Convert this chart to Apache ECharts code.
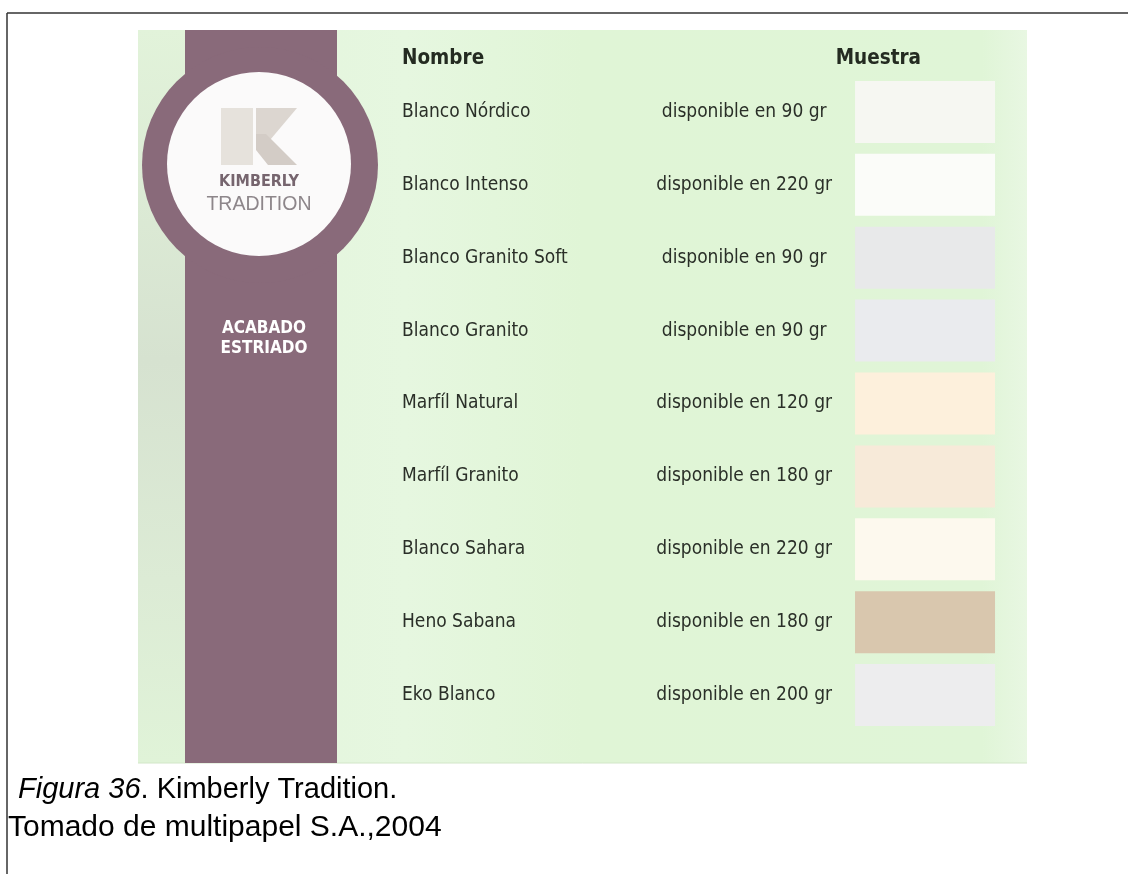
<!DOCTYPE html>
<html>
<head>
<meta charset="utf-8">
<script src="https://cdn.jsdelivr.net/npm/echarts@6/dist/echarts.min.js"></script>
<style>
  html, body { margin: 0; padding: 0; background: #fff; }
  #chart { width: 1128px; height: 874px; }
</style>
</head>
<body>
<div id="chart"></div>
<script>
// nombres de los papeles, gramaje disponible y color de la muestra
var productNames = ['Blanco Nórdico', 'Blanco Intenso', 'Blanco Granito Soft', 'Blanco Granito',
  'Marfíl Natural', 'Marfíl Granito', 'Blanco Sahara', 'Heno Sabana', 'Eko Blanco'];
var gramajes = [90, 220, 90, 90, 120, 180, 220, 180, 200];
var sampleColors = ['#f6f7f2', '#fbfcf9', '#e8e9ea', '#eaebee', '#fdf0dc',
  '#f7ead9', '#fdf9ee', '#d9c7ae', '#ededee'];

var textFont = "'DejaVu Sans Condensed', 'DejaVu Sans', sans-serif";
var captionFont = "'Liberation Sans', Arial, sans-serif";
var textColor = '#2a2f28';

var myChart = echarts.init(document.getElementById('chart'));

var option = {
  animation: false,
  backgroundColor: '#ffffff',
  grid: { left: 402, right: 135, top: 75.5, height: 656 },
  xAxis: { type: 'value', min: 0, max: 1, show: false },
  yAxis: {
    type: 'category',
    inverse: true,
    data: productNames,
    axisLine: { show: false },
    axisTick: { show: false },
    splitLine: { show: false },
    axisLabel: { align: 'left', margin: 0, fontSize: 19, color: textColor, fontFamily: textFont }
  },
  series: [
    {
      // muestras de papel
      type: 'scatter',
      symbol: 'rect',
      symbolSize: [140, 62],
      silent: true,
      itemStyle: { opacity: 1 },
      data: productNames.map(function (name, i) {
        return { value: [0.885, i], itemStyle: { color: sampleColors[i], opacity: 1 } };
      })
    },
    {
      // texto de gramaje
      type: 'scatter',
      symbolSize: 1,
      silent: true,
      itemStyle: { color: 'rgba(0,0,0,0)', opacity: 1 },
      label: {
        show: true,
        position: 'inside',
        fontSize: 19,
        color: textColor,
        fontFamily: textFont,
        formatter: function (p) { return 'disponible en ' + p.value[2] + ' gr'; }
      },
      data: gramajes.map(function (g, i) { return [0.579, i, g]; })
    }
  ],
  graphic: [
    // marco de la pagina
    { type: 'line', z: 0, shape: { x1: 7, y1: 13, x2: 1128, y2: 13 }, style: { stroke: '#333', lineWidth: 1.5 } },
    { type: 'line', z: 0, shape: { x1: 7, y1: 13, x2: 7, y2: 874 }, style: { stroke: '#333', lineWidth: 1.5 } },
    // fondo verde
    { type: 'rect', z: 0, shape: { x: 138, y: 30, width: 889, height: 733 },
      style: { fill: new echarts.graphic.LinearGradient(0, 0, 1, 0, [
        { offset: 0, color: '#e2f3da' }, { offset: 0.3, color: '#e6f7e0' },
        { offset: 0.5, color: '#e0f5d6' }, { offset: 0.95, color: '#e0f5d7' }, { offset: 1, color: '#e8f7e2' }]) } },
    { type: 'rect', z: 0, shape: { x: 138, y: 30, width: 47, height: 733 },
      style: { fill: new echarts.graphic.LinearGradient(0, 0, 0, 1, [
        { offset: 0, color: '#e2f3da' }, { offset: 0.45, color: '#d6e2d0' }, { offset: 0.75, color: '#dcebd5' }, { offset: 1, color: '#e0f3d8' }]) } },
    { type: 'line', z: 0, shape: { x1: 138, y1: 763, x2: 1027, y2: 763 }, style: { stroke: '#d2e6c8', lineWidth: 1 } },
    // banda morada y circulo
    { type: 'rect', z: 1, shape: { x: 185, y: 30, width: 152, height: 733 }, style: { fill: '#896a7a' } },
    { type: 'circle', z: 1, shape: { cx: 260, cy: 165, r: 118 }, style: { fill: '#896a7a' } },
    { type: 'circle', z: 1, shape: { cx: 259, cy: 164, r: 92 }, style: { fill: '#fbfafa' } },
    // logo K
    { type: 'rect', z: 1, shape: { x: 221, y: 108, width: 32, height: 57 }, style: { fill: '#e6e2dc' } },
    { type: 'polygon', z: 1, shape: { points: [[256, 108], [297, 108], [270, 140], [256, 140]] }, style: { fill: '#dcd6d0' } },
    { type: 'polygon', z: 1, shape: { points: [[256, 134], [266, 134], [297, 165], [268, 165], [256, 150]] }, style: { fill: '#d3ccc6' } },
    { type: 'text', z: 1, x: 259, y: 182, style: { text: 'KIMBERLY', fill: '#76656e', font: "bold 16px 'DejaVu Sans Condensed', 'DejaVu Sans', sans-serif", align: 'center', verticalAlign: 'middle' } },
    { type: 'text', z: 1, x: 259, y: 205, style: { text: 'TRADITION', fill: '#8d868a', font: "19.5px 'Liberation Sans', Arial, sans-serif", align: 'center', verticalAlign: 'middle' } },
    { type: 'text', z: 1, x: 264, y: 329, style: { text: 'ACABADO', fill: '#ffffff', font: "bold 17px 'DejaVu Sans Condensed', 'DejaVu Sans', sans-serif", align: 'center', verticalAlign: 'middle' } },
    { type: 'text', z: 1, x: 264, y: 349, style: { text: 'ESTRIADO', fill: '#ffffff', font: "bold 17px 'DejaVu Sans Condensed', 'DejaVu Sans', sans-serif", align: 'center', verticalAlign: 'middle' } },
    // encabezados
    { type: 'text', z: 1, x: 402, y: 59, style: { text: 'Nombre', fill: '#242b21', font: "bold 20.5px 'DejaVu Sans Condensed', 'DejaVu Sans', sans-serif", align: 'left', verticalAlign: 'middle' } },
    { type: 'text', z: 1, x: 921, y: 59, style: { text: 'Muestra', fill: '#242b21', font: "bold 20.5px 'DejaVu Sans Condensed', 'DejaVu Sans', sans-serif", align: 'right', verticalAlign: 'middle' } },
    // pie de figura
    { type: 'text', z: 1, x: 18, y: 790, style: {
      text: '{i|Figura 36}{n|. Kimberly Tradition.}', verticalAlign: 'middle',
      rich: { i: { font: "italic 29px " + captionFont, fill: '#000' }, n: { font: "29px " + captionFont, fill: '#000' } } } },
    { type: 'text', z: 1, x: 8, y: 828, style: { text: 'Tomado de multipapel S.A.,2004', fill: '#000', font: "30px " + captionFont, verticalAlign: 'middle' } }
  ]
};

myChart.setOption(option);
</script>
</body>
</html>
